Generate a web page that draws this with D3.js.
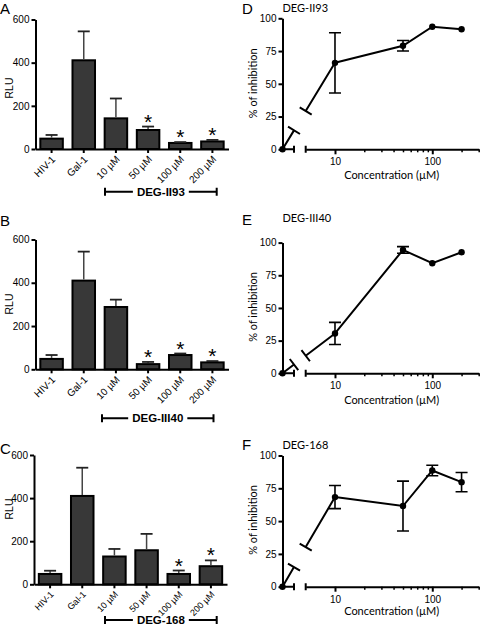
<!DOCTYPE html>
<html><head><meta charset="utf-8">
<script src="https://cdn.jsdelivr.net/npm/d3@7"></script>
<style>
body{margin:0;background:#fff}
svg{display:block}
text{font-family:"Liberation Sans",Arial,sans-serif;fill:#000}
.hum{font-family:"Lato","Open Sans",sans-serif}
</style>
</head><body>
<svg id="c" width="480" height="634"></svg>
<script>
// ---------- data ----------
const barCategories = ["HIV-1", "Gal-1", "10 µM", "50 µM", "100 µM", "200 µM"];
const rluTicks = [0, 200, 400, 600];
const rluA = [48, 411, 142, 88, 28, 35];
const rluAErr = [17, 134, 92, 16, 4, 7];
const rluAStars = ["50 µM", "100 µM", "200 µM"];
const rluB = [48, 410, 288, 24, 66, 32];
const rluBErr = [18, 134, 34, 10, 7, 6];
const rluBStars = ["50 µM", "100 µM", "200 µM"];
const rluC = [48, 410, 129, 158, 48, 84];
const rluCErr = [15, 131, 35, 76, 16, 27];
const rluCStars = ["100 µM", "200 µM"];
const compounds = ["DEG-II93", "DEG-III40", "DEG-168"];

const concentrations = [0, 10, 50, 100, 200];
const inhibD = [0, 66, 79, 93.6, 91.6];
const inhibDErr = [0, 23, 4, 0, 0];
const inhibE = [0, 30.5, 94.4, 84.2, 92.6];
const inhibEErr = [0, 8.5, 2.5, 0, 0];
const inhibF = [0, 68.3, 61.5, 88.6, 79.7];
const inhibFErr = [0, 8.8, 19, 4, 7.3];
const inhibTicks = [0, 25, 50, 75, 100];
const concMajorTicks = [10, 100];
const concMinorTicks = [20, 30, 40, 50, 60, 70, 80, 90, 200, 300];

// ---------- drawing ----------
const svg = d3.select("#c");

function styleAxis(g, w) {
  g.select(".domain").attr("stroke", "#000").attr("stroke-width", w);
  g.selectAll(".tick line").attr("stroke", "#000").attr("stroke-width", w);
  g.selectAll(".tick text").attr("font-size", 10).attr("fill", "#000")
    .attr("font-family", '"Liberation Sans",Arial,sans-serif');
}

const barPanels = [
  {letter: "A", values: rluA, errs: rluAErr, stars: rluAStars, compound: compounds[0], catSize: 10,
   ax: 35.5, y0: 149, y1: 19.5, letterY: 13.5, rluY: 88, br: {x0: 105, x1: 216.7, y: 191.7}},
  {letter: "B", values: rluB, errs: rluBErr, stars: rluBStars, compound: compounds[1], catSize: 10,
   ax: 35.5, y0: 369.3, y1: 239.5, letterY: 226, rluY: 304, br: {x0: 102, x1: 213.5, y: 418.3}},
  {letter: "C", values: rluC, errs: rluCErr, stars: rluCStars, compound: compounds[2], catSize: 9,
   ax: 34, y0: 584.3, y1: 455, letterY: 453.5, rluY: 509, br: {x0: 105, x1: 216.7, y: 620}}
];

barPanels.forEach(p => {
  const g = svg.append("g");
  const x = d3.scaleBand().domain(barCategories).range([p.ax, p.ax + 193])
    .paddingInner(0.3).paddingOuter(0.15);
  const y = d3.scaleLinear().domain([0, 600]).range([p.y0, p.y1]);

  // bars
  g.selectAll("rect.bar").data(p.values).join("rect").attr("class", "bar")
    .attr("x", (d, i) => x(barCategories[i]))
    .attr("y", d => y(d))
    .attr("width", x.bandwidth())
    .attr("height", d => y(0) - y(d))
    .attr("fill", "#383838").attr("stroke", "#000").attr("stroke-width", 2);

  // error bars (upper only)
  const eb = g.selectAll("g.err").data(p.values).join("g").attr("class", "err");
  eb.append("line")
    .attr("x1", (d, i) => x(barCategories[i]) + x.bandwidth() / 2)
    .attr("x2", (d, i) => x(barCategories[i]) + x.bandwidth() / 2)
    .attr("y1", d => y(d) - 1)
    .attr("y2", (d, i) => y(d + p.errs[i]))
    .attr("stroke", "#444").attr("stroke-width", 1.5);
  eb.append("line")
    .attr("x1", (d, i) => x(barCategories[i]) + x.bandwidth() / 2 - 6)
    .attr("x2", (d, i) => x(barCategories[i]) + x.bandwidth() / 2 + 6)
    .attr("y1", (d, i) => y(d + p.errs[i]))
    .attr("y2", (d, i) => y(d + p.errs[i]))
    .attr("stroke", "#222").attr("stroke-width", 1.8);

  // stars
  p.stars.forEach(c => {
    const i = barCategories.indexOf(c);
    g.append("text")
      .attr("x", x(c) + x.bandwidth() / 2)
      .attr("y", y(p.values[i] + p.errs[i]) + 2)
      .attr("text-anchor", "middle").attr("font-size", 21).text("*");
  });

  // axes
  const ya = g.append("g").attr("transform", `translate(${p.ax},0)`)
    .call(d3.axisLeft(y).tickValues(rluTicks).tickSize(4).tickSizeOuter(0).tickPadding(2));
  styleAxis(ya, 2);
  const xa = g.append("g").attr("transform", `translate(0,${p.y0})`)
    .call(d3.axisBottom(x).tickSize(4).tickSizeOuter(0));
  styleAxis(xa, 2);
  xa.selectAll(".tick text")
    .attr("font-size", p.catSize)
    .attr("text-anchor", "end")
    .attr("x", 0).attr("y", 0)
    .attr("dy", "0.35em")
    .attr("transform", "translate(2,8.5) rotate(-45)");

  // y label
  g.append("text").attr("transform", `translate(13.3,${p.rluY}) rotate(-90)`)
    .attr("text-anchor", "middle").attr("font-size", 10.5).text("RLU");

  // panel letter
  g.append("text").attr("x", 0).attr("y", p.letterY).attr("font-size", 15).text(p.letter);

  // bracket
  const bx = (p.br.x0 + p.br.x1) / 2;
  const t = g.append("text").attr("x", bx).attr("y", p.br.y)
    .attr("dy", "0.36em").attr("text-anchor", "middle")
    .attr("font-size", 11.5).attr("font-weight", "bold").text(p.compound);
  const tw = t.node().getComputedTextLength();
  const bl = d3.path();
  bl.moveTo(p.br.x0, p.br.y); bl.lineTo(bx - tw / 2 - 4, p.br.y);
  bl.moveTo(bx + tw / 2 + 4, p.br.y); bl.lineTo(p.br.x1, p.br.y);
  bl.moveTo(p.br.x0, p.br.y - 4); bl.lineTo(p.br.x0, p.br.y + 4);
  bl.moveTo(p.br.x1, p.br.y - 4); bl.lineTo(p.br.x1, p.br.y + 4);
  g.append("path").attr("d", bl.toString()).attr("stroke", "#000").attr("stroke-width", 2).attr("fill", "none");
});

// ---------- dose-response panels ----------
const linePanels = [
  {letter: "D", title: compounds[0], values: inhibD, errs: inhibDErr, y0: 149.3, y1: 18.3,
   letterY: 14, titleY: 11.5, xlabY: 179, ylabY: 83.3},
  {letter: "E", title: compounds[1], values: inhibE, errs: inhibEErr, y0: 373.3, y1: 242.6,
   letterY: 225, titleY: 221.7, xlabY: 404, ylabY: 307},
  {letter: "F", title: compounds[2], values: inhibF, errs: inhibFErr, y0: 586.7, y1: 455.5,
   letterY: 450, titleY: 448.5, xlabY: 615, ylabY: 520}
];

const axX = 282.5;
linePanels.forEach(p => {
  const g = svg.append("g");
  const x = d3.scaleLog().domain([5, 300]).range([305.7, 478.7]);
  const xBreak = d3.scaleLinear().domain([0, 1]).range([axX, 294]); // zero segment
  const y = d3.scaleLinear().domain([0, 100]).range([p.y0, p.y1]);
  const px = c => c === 0 ? xBreak(0) : x(c);

  // axes
  const ya = g.append("g").attr("transform", `translate(${axX},0)`)
    .call(d3.axisLeft(y).tickValues(inhibTicks).tickSize(4).tickSizeOuter(0).tickPadding(2));
  styleAxis(ya, 2);
  const xa = g.append("g").attr("transform", `translate(0,${p.y0})`)
    .call(d3.axisBottom(x).tickValues(concMajorTicks).tickFormat(d3.format("d")).tickSize(5).tickSizeOuter(0).tickPadding(4));
  styleAxis(xa, 2);
  const xm = g.append("g").attr("transform", `translate(0,${p.y0})`)
    .call(d3.axisBottom(x).tickValues(concMinorTicks).tickFormat("").tickSize(3).tickSizeOuter(0));
  styleAxis(xm, 1.5);
  xm.select(".domain").remove();
  // first (zero) segment + break ticks
  const seg = d3.path();
  seg.moveTo(xBreak(0), p.y0); seg.lineTo(xBreak(1), p.y0);
  seg.moveTo(xBreak(1), p.y0 - 3.5); seg.lineTo(xBreak(1), p.y0 + 3.5);
  seg.moveTo(x(5), p.y0 - 3.5); seg.lineTo(x(5), p.y0 + 3.5);
  g.append("path").attr("d", seg.toString()).attr("stroke", "#000").attr("stroke-width", 2).attr("fill", "none");

  // connecting line (points 1..n) and broken segment from zero
  const pts = concentrations.map((c, i) => [px(c), y(p.values[i])]);
  g.append("path").attr("d", d3.line()(pts.slice(1)))
    .attr("fill", "none").attr("stroke", "#000").attr("stroke-width", 2);
  const [p0, p1] = [pts[0], pts[1]];
  const dx = p1[0] - p0[0], dy = p1[1] - p0[1], L = Math.hypot(dx, dy);
  const ta = (xBreak(1) - p0[0]) / dx, tb = (x(5) - p0[0]) / dx;
  const a = [p0[0] + dx * ta, p0[1] + dy * ta], b = [p0[0] + dx * tb, p0[1] + dy * tb];
  const nx = -dy / L * 7, ny = dx / L * 7;
  const br = d3.path();
  br.moveTo(p0[0], p0[1]); br.lineTo(a[0], a[1]);
  br.moveTo(b[0], b[1]); br.lineTo(p1[0], p1[1]);
  br.moveTo(a[0] - nx, a[1] - ny); br.lineTo(a[0] + nx, a[1] + ny);
  br.moveTo(b[0] - nx, b[1] - ny); br.lineTo(b[0] + nx, b[1] + ny);
  g.append("path").attr("d", br.toString()).attr("fill", "none").attr("stroke", "#000").attr("stroke-width", 2);

  // error bars
  concentrations.forEach((c, i) => {
    const e = p.errs[i];
    if (!e) return;
    const cx = px(c), lo = y(p.values[i] - e), hi = y(p.values[i] + e);
    const ep = d3.path();
    ep.moveTo(cx, lo); ep.lineTo(cx, hi);
    ep.moveTo(cx - 6, lo); ep.lineTo(cx + 6, lo);
    ep.moveTo(cx - 6, hi); ep.lineTo(cx + 6, hi);
    g.append("path").attr("d", ep.toString()).attr("stroke", "#000").attr("stroke-width", 1.6).attr("fill", "none");
  });

  // markers
  g.selectAll("circle").data(pts).join("circle")
    .attr("cx", d => d[0]).attr("cy", d => d[1]).attr("r", 3.2).attr("fill", "#000");

  // labels
  g.append("text").attr("x", 242).attr("y", p.letterY).attr("font-size", 15).text(p.letter);
  g.append("text").attr("class", "hum").attr("x", axX).attr("y", p.titleY).attr("font-size", 11).text(p.title);
  g.append("text").attr("class", "hum").attr("x", 391.7).attr("y", p.xlabY)
    .attr("text-anchor", "middle").attr("font-size", 11).text("Concentration (µM)");
  g.append("text").attr("class", "hum").attr("transform", `translate(256.5,${p.ylabY}) rotate(-90)`)
    .attr("text-anchor", "middle").attr("font-size", 11).text("% of inhibition");
});
</script>
</body></html>
